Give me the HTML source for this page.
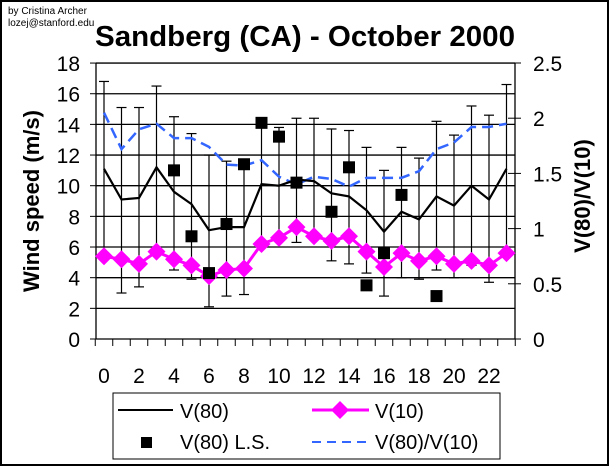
<!DOCTYPE html>
<html><head><meta charset="utf-8"><style>
html,body{margin:0;padding:0;background:#fff}
svg{display:block}
text{font-family:"Liberation Sans",Arial,sans-serif}
</style></head><body>
<svg id="s" width="610" height="467" xmlns="http://www.w3.org/2000/svg">
<rect x="1" y="1" width="607" height="464" fill="#fff" stroke="#000" stroke-width="2"/>
<text x="8" y="14" font-size="10">by Cristina Archer</text>
<text x="8" y="26" font-size="10">lozej@stanford.edu</text>
<text x="305" y="46" font-size="29" font-weight="bold" text-anchor="middle" textLength="420" lengthAdjust="spacingAndGlyphs">Sandberg (CA) - October 2000</text>
<text transform="translate(39,201) rotate(-90)" font-size="22" font-weight="bold" text-anchor="middle">Wind speed (m/s)</text>
<text transform="translate(590,196) rotate(-90)" font-size="22" font-weight="bold" text-anchor="middle">V(80)/V(10)</text>
<g id="g"></g>
<rect x="113" y="393" width="387" height="66" fill="#fff" stroke="#000" stroke-width="1"/>
<line x1="118" y1="410" x2="173" y2="410" stroke="#000" stroke-width="2"/>
<text x="180" y="418" font-size="20">V(80)</text>
<line x1="312" y1="410" x2="369" y2="410" stroke="#f0f" stroke-width="3"/>
<polygon points="340,401 349,410 340,419 331,410" fill="#f0f"/>
<text x="375" y="418" font-size="20">V(10)</text>
<rect x="141" y="437" width="11" height="11" fill="#000"/>
<text x="180" y="449" font-size="20">V(80) L.S.</text>
<line x1="312" y1="442" x2="369" y2="442" stroke="#3366ff" stroke-width="2" stroke-dasharray="9,6"/>
<text x="375" y="449" font-size="20">V(80)/V(10)</text>
</svg>
<script>
var g=document.getElementById('g'),h='';
function Y(v){return 339-15.33*v}
function YR(v){return 339-110.4*v}
function X(i){return 104+17.5*i}
for(var v=0;v<=18;v+=2){var y=Y(v);h+='<line x1="96" y1="'+y+'" x2="515" y2="'+y+'" stroke="#000" stroke-width="1.3"/><line x1="90" y1="'+y+'" x2="96" y2="'+y+'" stroke="#000"/><text x="80" y="'+(y+8)+'" font-size="21" text-anchor="end">'+v+'</text>';}
var rl=['0','0.5','1','1.5','2','2.5'];
for(var k=0;k<6;k++){var y=YR(k*0.5);h+='<line x1="508" y1="'+y+'" x2="521" y2="'+y+'" stroke="#000"/><text x="533" y="'+(y+8)+'" font-size="21">'+rl[k]+'</text>';}
h+='<line x1="96" y1="63" x2="96" y2="339" stroke="#000" stroke-width="1.3"/><line x1="515" y1="63" x2="515" y2="339" stroke="#000" stroke-width="1.3"/>';
for(var i=0;i<=24;i++){var x=95.25+17.5*i;h+='<line x1="'+x+'" y1="339" x2="'+x+'" y2="346" stroke="#000"/>';}
for(var i=0;i<=22;i+=2){h+='<text x="'+X(i)+'" y="383" font-size="21" text-anchor="middle">'+i+'</text>';}
var up=[16.8,15.1,15.1,16.5,14.5,13.4,12.0,11.6,11.6,14.0,13.8,14.4,14.4,13.7,13.6,12.5,11.0,12.5,11.8,14.2,13.3,15.2,14.6,16.6];
var lo=[5.4,3.0,3.4,5.7,4.5,3.9,2.1,2.8,2.9,6.2,6.6,6.3,6.7,5.1,4.9,4.3,2.8,4.0,3.9,4.5,4.0,4.8,3.7,5.6];
for(var i=0;i<24;i++){var x=X(i);h+='<line x1="'+x+'" y1="'+Y(up[i])+'" x2="'+x+'" y2="'+Y(lo[i])+'" stroke="#000" stroke-width="1.2"/><line x1="'+(x-5)+'" y1="'+Y(up[i])+'" x2="'+(x+5)+'" y2="'+Y(up[i])+'" stroke="#000" stroke-width="1.2"/><line x1="'+(x-5)+'" y1="'+Y(lo[i])+'" x2="'+(x+5)+'" y2="'+Y(lo[i])+'" stroke="#000" stroke-width="1.2"/>';}
var r=[2.05,1.72,1.9,1.95,1.82,1.82,1.74,1.58,1.57,1.62,1.47,1.4,1.47,1.45,1.38,1.46,1.46,1.46,1.52,1.72,1.78,1.92,1.92,1.95];
var p=r.map(function(v,i){return X(i)+','+YR(v)}).join(' ');
h+='<polyline points="'+p+'" fill="none" stroke="#3366ff" stroke-width="2.5" stroke-dasharray="11,6"/>';
var a=[11.1,9.1,9.2,11.2,9.6,8.8,7.1,7.3,7.3,10.1,10.0,10.4,10.3,9.5,9.3,8.4,7.0,8.3,7.8,9.3,8.7,10.0,9.1,11.1];
p=a.map(function(v,i){return X(i)+','+Y(v)}).join(' ');
h+='<polyline points="'+p+'" fill="none" stroke="#000" stroke-width="2.2"/>';
var b=[5.4,5.2,4.9,5.7,5.2,4.8,4.1,4.5,4.6,6.2,6.6,7.3,6.7,6.4,6.7,5.7,4.7,5.6,5.1,5.4,4.9,5.1,4.8,5.6];
p=b.map(function(v,i){return X(i)+','+Y(v)}).join(' ');
h+='<polyline points="'+p+'" fill="none" stroke="#f0f" stroke-width="3"/>';
b.forEach(function(v,i){var x=X(i),y=Y(v);h+='<polygon points="'+x+','+(y-9)+' '+(x+9)+','+y+' '+x+','+(y+9)+' '+(x-9)+','+y+'" fill="#f0f"/>';});
var s={4:11.0,5:6.7,6:4.3,7:7.5,8:11.4,9:14.1,10:13.2,11:10.2,13:8.3,14:11.2,15:3.5,16:5.6,17:9.4,19:2.8};
for(var k in s){var x=X(+k),y=Y(s[k]);h+='<rect x="'+(x-6)+'" y="'+(y-6)+'" width="12" height="12" fill="#000"/>';}
g.innerHTML=h;
</script>
</body></html>
